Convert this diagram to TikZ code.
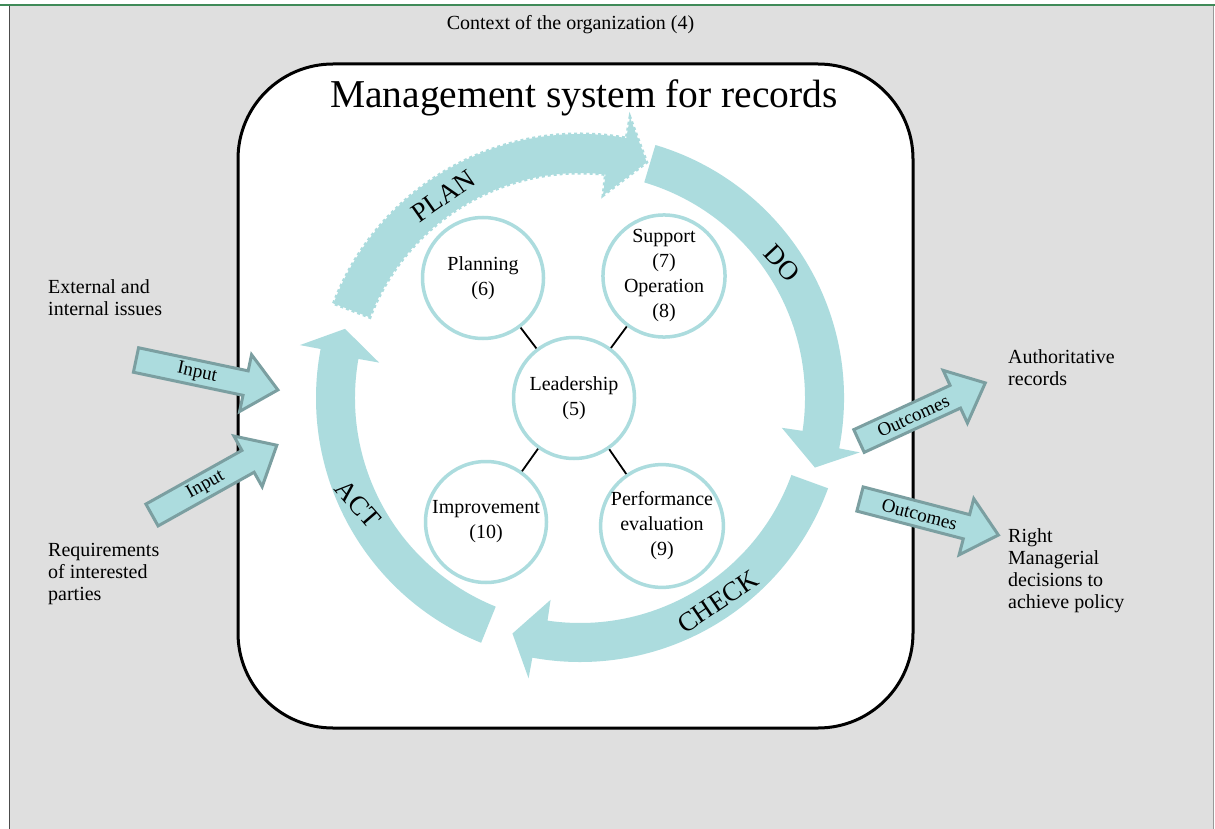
\documentclass[tikz,border=0pt]{standalone}
\usepackage{fontspec}
\setmainfont{Liberation Serif}
\definecolor{tealfill}{HTML}{ACDCDE}
\definecolor{tealborder}{HTML}{7B9FA1}
\definecolor{bggray}{HTML}{DFDFDF}
\definecolor{topgreen}{HTML}{3F8A58}
\newcommand\ringarr[5]{\path[#1] (#2:264) arc[start angle=#2, end angle=#3, radius=264] -- (#3:285) -- (#5:245) -- (#4:204) -- (#4:225) arc[start angle=#4, end angle=#2, radius=225] -- cycle;}
\newcommand\blockarr[5]{%
\begin{scope}[shift={#2}, rotate=#3]
\path[barrowshape] (0,-12.5) -- ({#4-33},-12.5) -- ({#4-33},-29) -- (#4,0) -- ({#4-33},29) -- ({#4-33},12.5) -- (0,12.5) -- cycle;
\node[transform shape, arrtxt] (#1) at ({0.43*#4},0) {#5};
\end{scope}}
\begin{document}
\begin{tikzpicture}[x=1pt,y=1pt,
  txt/.style={font=\fontsize{20}{22}\selectfont, inner sep=0, align=left},
  circ/.style={circle, draw=tealfill, line width=3.5, fill=white, minimum size=121, inner sep=0, align=center, font=\fontsize{20}{25}\selectfont},
  link/.style={line width=1.8, black},
  ring/.style={fill=tealfill},
  ringplan/.style={fill=tealfill, draw=tealfill, line width=3, dash pattern=on 3pt off 3pt},
  barrowshape/.style={fill=tealfill, draw=tealborder, line width=3, line join=miter},
  arrtxt/.style={font=\fontsize{19}{19}\selectfont, inner sep=0},
  pdca/.style={font=\fontsize{27}{27}\selectfont, inner sep=0}]
\useasboundingbox (0,0) rectangle (1215,-829);
\fill[white] (0,0) rectangle (1215,-829);
\fill[bggray] (9,-6) rectangle (1213,-829);
\draw[black!70, line width=1] (9.5,-6) -- (9.5,-829);
\draw[black!40, line width=1] (1213,-6) -- (1213,-829);
\draw[topgreen, line width=2.5] (0,-5) -- (1215,-5);

\node[txt, anchor=base] (ctx) at (570.5,-30) {Context of the organization (4)};

\node[draw, line width=3, fill=white, rounded corners=95, minimum width=675, minimum height=664, inner sep=0] (msr) at (575.5,-396) {};
\node[font=\fontsize{39.5}{40}\selectfont, anchor=base, inner sep=0] (title) at (584,-108) {Management system for records};

\begin{scope}[shift={(580,-398)}]
\ringarr{ringplan}{159}{79.9}{83.5}{74.2}
\ringarr{ring}{73.4}{-11}{-8.4}{-16.5}
\ringarr{ring}{-20}{-100.4}{-98.3}{-106}
\ringarr{ring}{248}{169.3}{170}{163.6}
\end{scope}

\node[circ] (lead) at (574,-398) {Leadership\\(5)};
\node[circ] (plan) at (483,-278) {Planning\\(6)};
\node[circ] (supp) at (664,-276) {Support\\(7)\\Operation\\(8)};
\node[circ] (impr) at (486,-522) {Improvement\\(10)};
\node[circ] (perf) at (662,-526) {Performance\\evaluation\\(9)};
\draw[link] (lead) -- (plan);
\draw[link] (lead) -- (supp);
\draw[link] (lead) -- (impr);
\draw[link] (lead) -- (perf);

\node[pdca, rotate=35] (plantxt) at (443,-196) {PLAN};
\node[pdca, rotate=-47] (dotxt) at (782,-263) {DO};
\node[pdca, rotate=34] (checktxt) at (718,-602) {CHECK};
\node[pdca, rotate=-49] (acttxt) at (358,-504) {ACT};

\blockarr{in1}{(136,-360)}{-11.9}{145}{Input}
\blockarr{in2}{(152,-515)}{29.2}{143}{Input}
\blockarr{out1}{(859,-441)}{24.7}{139}{Outcomes}
\blockarr{out2}{(860,-499)}{-14.6}{143}{Outcomes}

\node[txt, anchor=north west] (ext) at (48,-279.5) {External and\\internal issues};
\node[txt, anchor=north west] (req) at (48,-543.5) {Requirements\\of interested\\parties};
\node[txt, anchor=north west] (auth) at (1008,-349.5) {Authoritative\\records};
\node[txt, anchor=north west] (right) at (1008,-528.5) {Right\\Managerial\\decisions to\\achieve policy};
\end{tikzpicture}
\end{document}
